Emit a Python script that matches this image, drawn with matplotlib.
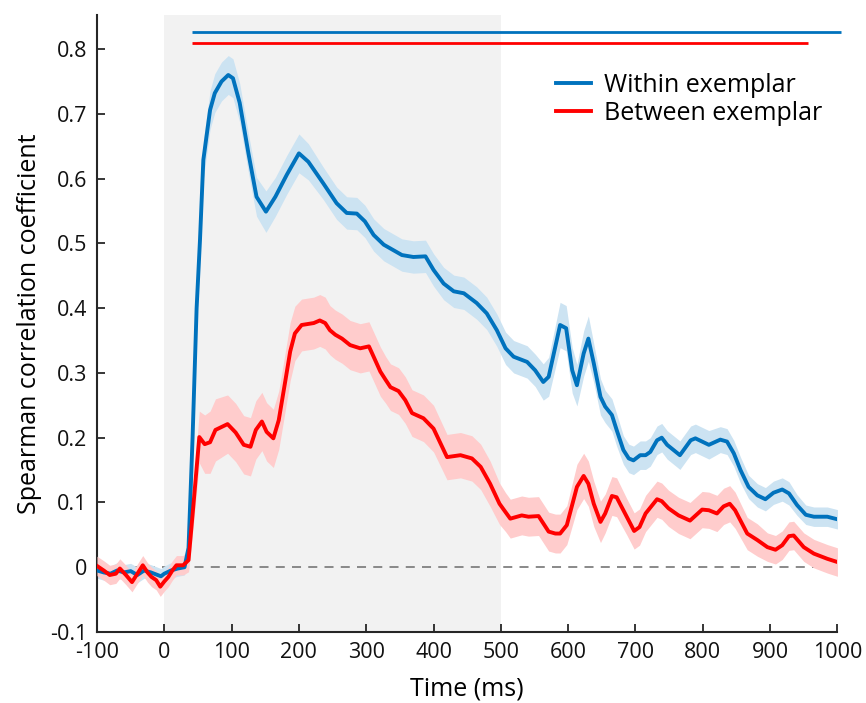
import numpy as np
import matplotlib
matplotlib.use("Agg")
import matplotlib.pyplot as plt

plt.rcParams["font.family"] = ["Open Sans", "DejaVu Sans"]
plt.rcParams["axes.unicode_minus"] = False

# ---- DATA ----
t_within = [-100, -90, -80, -70, -60, -50, -40, -30, -20, -10, -5, 0, 10, 20, 30, 36, 42, 48, 53, 58,
            68, 75, 85, 95, 102, 112, 125, 137, 151, 165, 182, 200, 214, 236, 256, 271, 286, 298, 311, 326,
            353, 370, 388, 400, 415, 430, 445, 464, 479, 494, 507, 519, 539, 551, 563, 571, 588, 597, 606, 613,
            623, 630, 638, 648, 655, 665, 672, 682, 690, 697, 707, 715, 722, 732, 739, 747, 766, 782, 789, 809,
            826, 836, 846, 856, 868, 881, 893, 905, 918, 928, 940, 953, 965, 985, 1000]
r_within = [-0.005, -0.008, -0.010, -0.005, -0.008, -0.006, -0.012, -0.005, -0.008, -0.012, -0.014, -0.010, -0.005, -0.002, 0.000, 0.030, 0.200, 0.400, 0.505, 0.629,
            0.706, 0.732, 0.750, 0.760, 0.755, 0.717, 0.639, 0.572, 0.549, 0.572, 0.606, 0.639, 0.626, 0.593, 0.562, 0.547, 0.546, 0.534, 0.513, 0.498,
            0.482, 0.479, 0.480, 0.459, 0.438, 0.426, 0.423, 0.408, 0.392, 0.366, 0.338, 0.325, 0.317, 0.304, 0.286, 0.294, 0.374, 0.369, 0.304, 0.281,
            0.330, 0.353, 0.315, 0.263, 0.248, 0.235, 0.212, 0.181, 0.168, 0.165, 0.173, 0.173, 0.178, 0.196, 0.200, 0.189, 0.173, 0.196, 0.199, 0.189,
            0.197, 0.194, 0.176, 0.150, 0.124, 0.111, 0.105, 0.115, 0.120, 0.114, 0.096, 0.081, 0.078, 0.078, 0.074]
ci_within = [0.012, 0.012, 0.012, 0.012, 0.012, 0.012, 0.012, 0.012, 0.012, 0.012, 0.012, 0.012, 0.012, 0.012, 0.012, 0.015, 0.020, 0.025, 0.028, 0.030,
             0.030, 0.030, 0.030, 0.030, 0.030, 0.030, 0.030, 0.030, 0.032, 0.030, 0.030, 0.030, 0.028, 0.025, 0.025, 0.025, 0.025, 0.025, 0.025, 0.025,
             0.025, 0.025, 0.025, 0.025, 0.025, 0.025, 0.025, 0.025, 0.025, 0.025, 0.025, 0.025, 0.025, 0.025, 0.028, 0.030, 0.035, 0.035, 0.035, 0.032,
             0.035, 0.035, 0.030, 0.028, 0.025, 0.025, 0.025, 0.022, 0.022, 0.022, 0.022, 0.022, 0.022, 0.022, 0.022, 0.022, 0.022, 0.022, 0.022, 0.022,
             0.020, 0.020, 0.020, 0.020, 0.018, 0.018, 0.018, 0.018, 0.018, 0.018, 0.016, 0.015, 0.015, 0.015, 0.015]

t_between = [-100, -90, -81, -72, -66, -57, -48, -40, -32, -25, -19, -12, -6, 0, 6, 12, 18, 28, 36, 43,
             52, 60, 68, 76, 94, 106, 118, 128, 136, 145, 152, 162, 170, 180, 187, 194, 204, 222, 231, 239,
             246, 254, 264, 276, 291, 304, 311, 321, 329, 336, 348, 358, 368, 385, 400, 420, 440, 457, 470, 484,
             498, 507, 514, 531, 541, 556, 571, 581, 588, 598, 613, 623, 630, 638, 648, 655, 665, 672, 687, 698,
             706, 715, 732, 739, 749, 764, 781, 799, 809, 821, 831, 840, 848, 866, 881, 896, 908, 918, 928, 935,
             950, 965, 985, 1000]
r_between = [0.002, -0.005, -0.012, -0.010, -0.002, -0.012, -0.023, -0.010, 0.003, -0.008, -0.015, -0.020, -0.030, -0.022, -0.015, -0.005, 0.003, 0.003, 0.011, 0.093,
             0.201, 0.190, 0.193, 0.212, 0.221, 0.208, 0.189, 0.186, 0.212, 0.225, 0.209, 0.199, 0.227, 0.289, 0.333, 0.361, 0.374, 0.377, 0.381, 0.377,
             0.366, 0.359, 0.353, 0.343, 0.338, 0.341, 0.325, 0.302, 0.289, 0.278, 0.272, 0.258, 0.238, 0.230, 0.214, 0.170, 0.173, 0.168, 0.155, 0.129,
             0.098, 0.085, 0.075, 0.080, 0.078, 0.079, 0.055, 0.052, 0.052, 0.065, 0.124, 0.141, 0.129, 0.098, 0.070, 0.083, 0.110, 0.108, 0.078, 0.056,
             0.062, 0.083, 0.105, 0.102, 0.091, 0.080, 0.072, 0.089, 0.088, 0.083, 0.094, 0.098, 0.088, 0.052, 0.042, 0.031, 0.027, 0.034, 0.048, 0.049,
             0.031, 0.021, 0.013, 0.008]
ci_between = [0.015, 0.015, 0.015, 0.015, 0.015, 0.015, 0.015, 0.015, 0.015, 0.015, 0.015, 0.015, 0.015, 0.015, 0.015, 0.015, 0.015, 0.015, 0.018, 0.030,
              0.040, 0.045, 0.048, 0.048, 0.045, 0.045, 0.045, 0.045, 0.045, 0.045, 0.045, 0.045, 0.045, 0.045, 0.045, 0.042, 0.040, 0.040, 0.040, 0.040,
              0.038, 0.038, 0.038, 0.038, 0.038, 0.038, 0.038, 0.038, 0.036, 0.036, 0.036, 0.036, 0.036, 0.036, 0.036, 0.035, 0.035, 0.035, 0.035, 0.035,
              0.032, 0.030, 0.030, 0.030, 0.030, 0.030, 0.030, 0.030, 0.030, 0.030, 0.035, 0.035, 0.035, 0.035, 0.032, 0.030, 0.030, 0.030, 0.028, 0.028,
              0.028, 0.028, 0.028, 0.028, 0.028, 0.028, 0.028, 0.028, 0.028, 0.028, 0.028, 0.028, 0.028, 0.025, 0.025, 0.022, 0.022, 0.022, 0.022, 0.022,
              0.022, 0.022, 0.022, 0.022]

# significance bars: (start, end, height)
sig_within = [41, 1005, 0.827]
sig_between = [41, 957, 0.810]

stim_window = [0, 500]

blue = "#0072BD"
red = "#FF0000"

# ---- PLOT ----
fig = plt.figure(figsize=(8.66, 7.03), dpi=100)
ax = fig.add_axes([0.112, 0.101, 0.855, 0.878])

ax.axvspan(stim_window[0], stim_window[1], color="#F2F2F2", zorder=0, lw=0)
ax.axhline(0, color="#808080", lw=1.3, ls=(0, (5, 4)), zorder=1)

tw = np.array(t_within)
rw = np.array(r_within)
cw = np.array(ci_within)
tb = np.array(t_between)
rb = np.array(r_between)
cb = np.array(ci_between)

ax.fill_between(tw, rw - cw, rw + cw, color="#CCE3F2", lw=0, zorder=2)
ax.fill_between(tb, rb - cb, rb + cb, color="#FFCCCC", lw=0, zorder=3)
ax.plot(tw, rw, color=blue, lw=2.8, zorder=4, label="Within exemplar")
ax.plot(tb, rb, color=red, lw=2.8, zorder=5, label="Between exemplar")

ax.plot(sig_within[:2], [sig_within[2]] * 2, color=blue, lw=2.0, clip_on=False, solid_capstyle="butt")
ax.plot(sig_between[:2], [sig_between[2]] * 2, color=red, lw=2.0, clip_on=False, solid_capstyle="butt")

ax.set_xlim(-100, 1000)
ax.set_ylim(-0.1, 0.853)
ax.set_xticks(np.arange(-100, 1001, 100))
ax.set_yticks([-0.1, 0, 0.1, 0.2, 0.3, 0.4, 0.5, 0.6, 0.7, 0.8])
ax.set_yticklabels(["-0.1", "0", "0.1", "0.2", "0.3", "0.4", "0.5", "0.6", "0.7", "0.8"])

for s in ["top", "right"]:
    ax.spines[s].set_visible(False)
for s in ["left", "bottom"]:
    ax.spines[s].set_color("#262626")
    ax.spines[s].set_linewidth(1.5)

ax.tick_params(direction="in", length=6, width=1.3, color="#262626", labelsize=15.5, pad=7,
               labelcolor="#111111")

ax.set_xlabel("Time (ms)", fontsize=18, labelpad=10)
ax.set_ylabel("Spearman correlation coefficient", fontsize=18, labelpad=6)

leg = ax.legend(loc="upper left", bbox_to_anchor=(0.62, 0.906), frameon=False, fontsize=18,
                handlelength=1.4, handletextpad=0.5, labelspacing=0.12, borderaxespad=0,
                borderpad=0)

plt.savefig("out.png", dpi=100)
